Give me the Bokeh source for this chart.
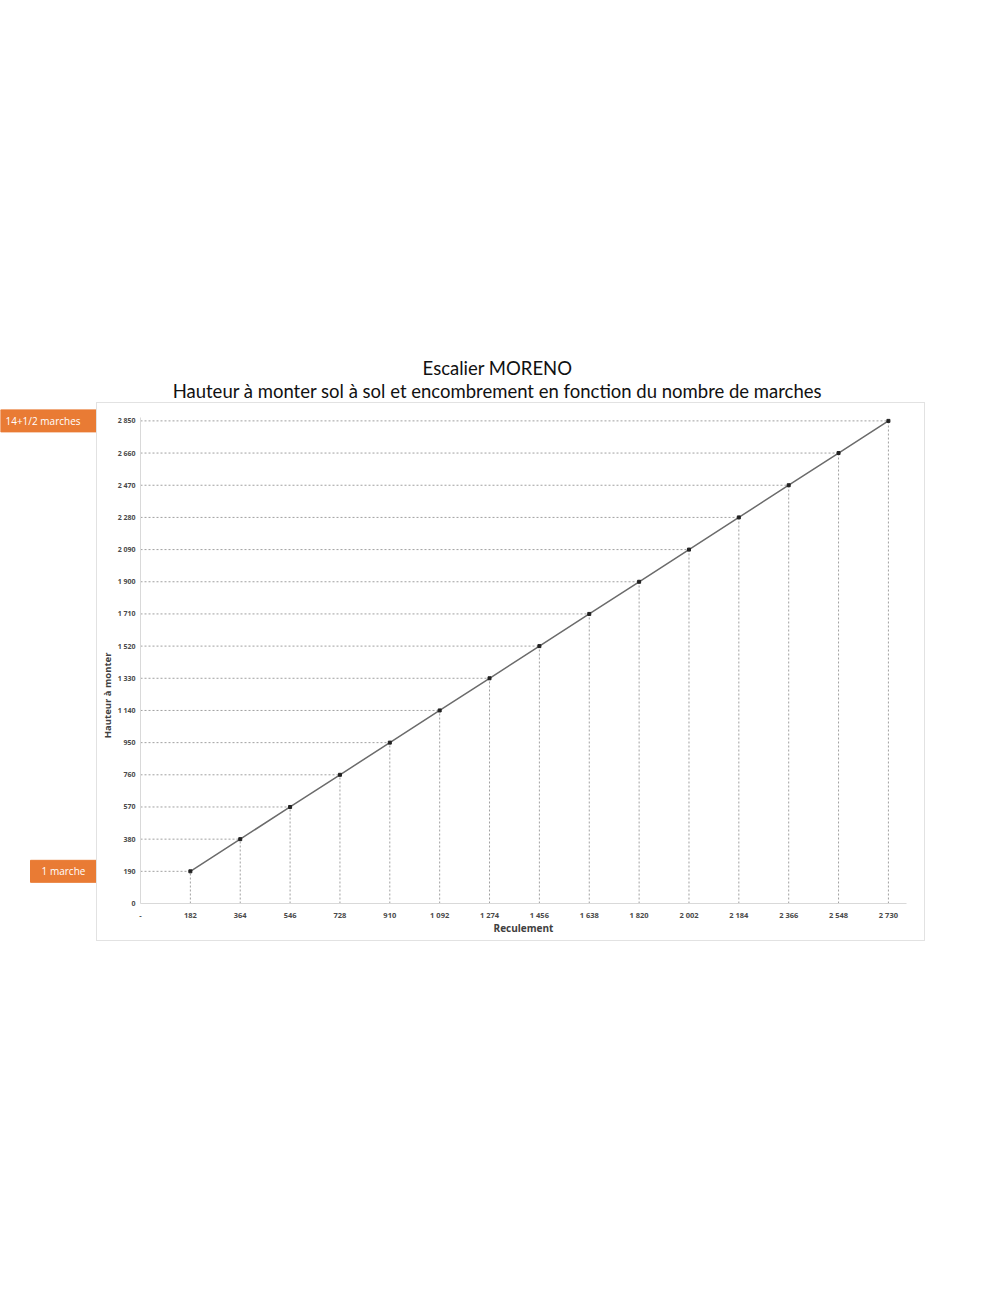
import math
from bokeh.plotting import figure
from bokeh.models import FixedTicker, Range1d
from bokeh.layouts import row, column
from bokeh.core.properties import value
from bokeh.embed import file_html
from bokeh.resources import INLINE

# ---- data ----
reculement = [182, 364, 546, 728, 910, 1092, 1274, 1456, 1638, 1820, 2002, 2184, 2366, 2548, 2730]
hauteur = [190, 380, 570, 760, 950, 1140, 1330, 1520, 1710, 1900, 2090, 2280, 2470, 2660, 2850]
x_ticks = [0] + reculement
y_ticks = [0] + hauteur
title_lines = ["Escalier MORENO",
               "Hauteur à monter sol à sol et encombrement en fonction du nombre de marches"]
x_label = "Reculement"
y_label = "Hauteur à monter"
tag_texts = ["14+1/2 marches", "1 marche"]
tag_values = [hauteur[-1], hauteur[0]]


def fmt(v, zero="0"):
    if v == 0:
        return zero
    return f"{v:,}".replace(",", " ")


# ---- layout geometry (pixels) ----
TITLE_H = 403            # height of the title strip
BOX_H = 537              # height of the chart box
TAG_W = 97               # strip holding the orange tags
YLAB_W = 17              # strip holding the rotated y label
MAIN_W = 809
FR_W, FR_H = 766, 486
FR_LEFT, FR_TOP, FR_BOTTOM = 25, 14, 37
X0, X1 = 0, 2796
Y0, Y1 = 0, 2870
sy = FR_H / (Y1 - Y0)
ext_y = Range1d(Y0 - FR_BOTTOM / sy, Y1 + FR_TOP / sy)   # same scale, full box height


def y_of(py):  # pixel inside box (from box top) -> data
    return Y1 + FR_TOP / sy - py / sy


def blank(w, h, xr, yr):
    f = figure(width=w, height=h, x_range=xr, y_range=yr, output_backend="svg",
               toolbar_location=None, x_axis_location=None, y_axis_location=None,
               min_border=0, min_border_left=0, min_border_right=0,
               min_border_top=0, min_border_bottom=0)
    f.xgrid.visible = False
    f.ygrid.visible = False
    f.outline_line_color = None
    f.background_fill_color = "white"
    f.border_fill_color = "white"
    return f


# ---- title strip ----
t = blank(TAG_W + YLAB_W + MAIN_W, TITLE_H, Range1d(0, TAG_W + YLAB_W + MAIN_W), Range1d(TITLE_H, 0))
t.text(x=[497, 497], y=[367, 390], text=title_lines, text_align="center",
       text_baseline="middle", text_font=value("Lato"), text_font_size="18.5px",
       text_color="#111111")

# ---- orange tags strip ----
ORANGE = "#e97b34"
g = blank(TAG_W, BOX_H, Range1d(0, TAG_W), ext_y)
g.rect(x=[48.5, 63.5], y=tag_values, width=[97, 67], height=22, height_units="screen",
       fill_color=ORANGE, line_color=ORANGE)
g.text(x=[42.5, 63], y=tag_values, text=tag_texts, text_align="center",
       text_baseline="middle", text_font=value("Open Sans"), text_font_size="10px",
       text_color="white")

# ---- y label strip ----
yl = blank(YLAB_W, BOX_H, Range1d(0, YLAB_W), ext_y)
yl.text(x=[10], y=[y_of(710 - 403)], text=[y_label], angle=math.pi / 2,
        text_align="center", text_baseline="middle", text_font=value("Open Sans"),
        text_font_size="9.5px", text_font_style="bold", text_color="#404040")

# ---- main chart ----
p = figure(width=MAIN_W, height=BOX_H, output_backend="svg", toolbar_location=None,
           x_range=(X0, X1), y_range=(Y0, Y1),
           min_border_left=FR_LEFT, min_border_right=MAIN_W - FR_LEFT - FR_W,
           min_border_top=FR_TOP, min_border_bottom=FR_BOTTOM)
p.frame_width = FR_W
p.frame_height = FR_H
p.outline_line_color = None
p.background_fill_color = "white"
p.border_fill_color = "white"
p.xgrid.visible = False
p.ygrid.visible = False

for ax in (p.xaxis[0], p.yaxis[0]):
    ax.axis_line_color = "#d9d9d9"
    ax.major_tick_line_color = None
    ax.minor_tick_line_color = None
    ax.major_tick_out = 0
    ax.major_tick_in = 0
    ax.minor_tick_out = 0
    ax.minor_tick_in = 0
    ax.major_label_text_font = "Open Sans"
    ax.major_label_text_font_style = "bold"
    ax.major_label_text_color = "#4a4a4a"
    ax.axis_label_text_font = "Open Sans"
    ax.axis_label_text_font_style = "bold"
    ax.axis_label_text_color = "#404040"
p.xaxis.major_label_text_font_size = "7.5px"
p.yaxis.major_label_text_font_size = "7px"
p.xaxis.ticker = FixedTicker(ticks=x_ticks)
p.yaxis.ticker = FixedTicker(ticks=y_ticks)
p.xaxis.major_label_overrides = {v: fmt(v, "-") for v in x_ticks}
p.yaxis.major_label_overrides = {v: fmt(v, "0") for v in y_ticks}
p.xaxis.major_label_standoff = 6
p.yaxis.major_label_standoff = 5
p.xaxis.axis_label = x_label
p.xaxis.axis_label_text_font_size = "10px"
p.xaxis.axis_label_standoff = -2

# dotted drop lines
p.segment(x0=[0] * len(reculement), y0=hauteur, x1=reculement, y1=hauteur,
          line_color="#a0a0a0", line_dash="2 2", line_width=1)
p.segment(x0=reculement, y0=[0] * len(hauteur), x1=reculement, y1=hauteur,
          line_color="#a0a0a0", line_dash="2 2", line_width=1)

# main line & markers
p.line(reculement, hauteur, line_color="#6b6b6b", line_width=1.5)
p.scatter(reculement, hauteur, marker="square", size=3, color="#222222")

box = row(yl, p, spacing=0, styles={"outline": "1px solid #e2e2e2"})
layout = column(t, row(g, box, spacing=0), spacing=0)

open("out.html", "w").write(file_html(layout, INLINE))
